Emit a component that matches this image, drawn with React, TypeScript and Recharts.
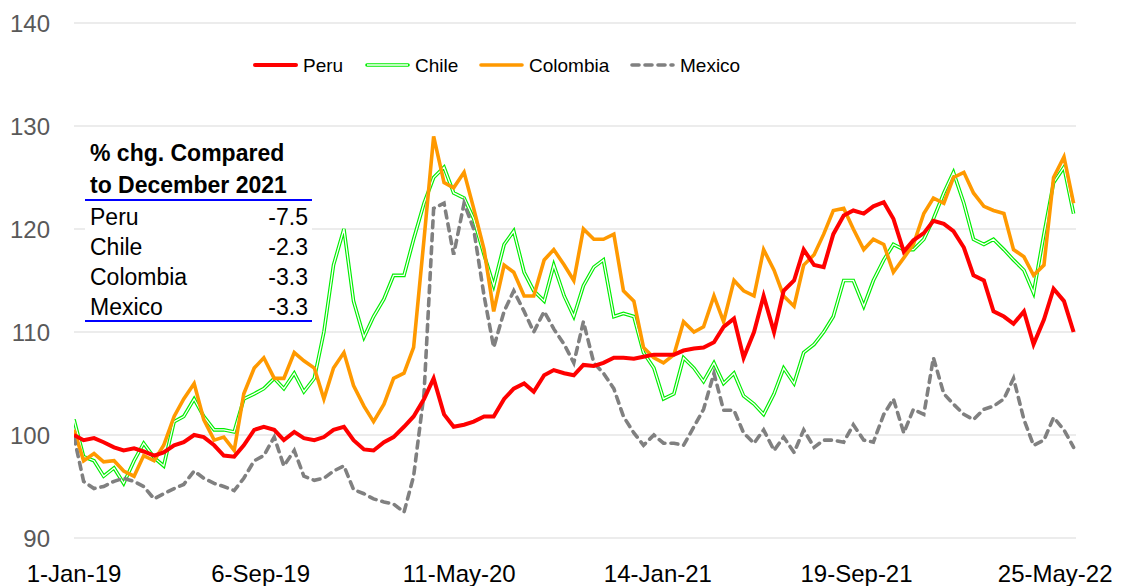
import { LineChart, Line, XAxis, YAxis, CartesianGrid } from 'recharts'

// days since 1-Jan-19
const days = [
  15, 27, 40, 52, 65, 77, 90, 102, 115, 127, 140, 152, 165, 177, 190, 202, 215, 227, 240, 252,
  265, 277, 290, 302, 315, 327, 339, 352, 364, 377, 389, 402, 414, 427, 439, 452, 464, 477, 489, 502,
  514, 527, 539, 552, 564, 577, 589, 602, 614, 627, 639, 651, 664, 676, 689, 701, 714, 726, 739, 751,
  764, 776, 789, 801, 814, 826, 839, 851, 864, 876, 889, 901, 914, 926, 939, 951, 963, 976, 988, 1001,
  1013, 1026, 1038, 1051, 1063, 1076, 1088, 1101, 1113, 1126, 1138, 1151, 1163, 1176, 1188, 1201, 1213, 1226, 1238, 1251,
  1263,
]

const peru = [
  100.0, 99.5, 99.7, 99.3, 98.8, 98.5, 98.7, 98.4, 98.0, 98.3,
  99.0, 99.3, 100.0, 99.8, 99.0, 98.0, 97.9, 99.0, 100.5, 100.8,
  100.5, 99.5, 100.3, 99.7, 99.5, 99.8, 100.5, 100.8, 99.5, 98.6,
  98.5, 99.3, 99.8, 100.8, 101.8, 103.5, 105.5, 102.0, 100.8, 101.0,
  101.3, 101.8, 101.8, 103.5, 104.5, 105.0, 104.2, 105.8, 106.3, 106.0,
  105.8, 106.8, 106.7, 107.0, 107.5, 107.5, 107.4, 107.6, 107.8, 107.8,
  107.8, 108.2, 108.4, 108.5, 109.0, 110.5, 111.3, 107.5, 110.0, 113.5,
  110.0, 114.0, 115.0, 118.0, 116.5, 116.3, 119.5, 121.3, 121.8, 121.5,
  122.2, 122.6, 121.0, 117.8, 118.9, 119.6, 120.8, 120.5, 119.8, 118.2,
  115.5, 115.0, 112.0, 111.5, 110.8, 112.0, 108.8, 111.2, 114.2, 113.0,
  110.0,
]

const chile = [
  101.5, 97.9, 97.5, 96.0, 96.8, 95.3, 97.5, 99.2, 97.8, 97.0,
  101.3, 101.8, 103.5, 101.8, 100.5, 100.5, 100.3, 103.5, 104.0, 104.5,
  105.5, 104.5, 106.0, 104.2, 105.5, 110.0, 116.5, 120.0, 113.0, 109.5,
  111.5, 113.2, 115.5, 115.5, 119.0, 122.5, 125.0, 126.0, 123.5, 123.0,
  121.0, 117.5, 114.5, 118.5, 119.8, 115.8, 114.0, 113.0, 116.5, 113.5,
  111.5, 114.5, 116.3, 117.0, 111.5, 111.8, 111.5, 108.0, 106.5, 103.5,
  104.0, 107.5, 106.5, 105.2, 107.0, 105.0, 106.0, 103.8, 103.0, 102.0,
  104.0, 106.5, 105.0, 108.0, 108.8, 110.0, 111.5, 115.0, 115.0, 112.5,
  115.0, 117.0, 118.5, 118.0, 118.0, 119.0, 121.0, 123.5, 125.5, 122.5,
  119.0, 118.5, 119.0, 118.0, 117.0, 116.0, 113.8, 119.5, 124.5, 126.0,
  121.5,
]

const colombia = [
  100.5, 97.5, 98.2, 97.4, 97.5, 96.5, 96.0, 98.0, 97.5, 99.0,
  101.8, 103.5, 105.0, 101.5, 99.5, 99.8, 98.5, 104.0, 106.5, 107.5,
  105.5, 105.5, 108.0, 107.2, 106.5, 103.5, 106.5, 108.0, 104.8, 102.8,
  101.3, 103.0, 105.5, 106.0, 108.5, 119.0, 129.0, 124.5, 124.0, 125.5,
  122.0, 118.0, 112.0, 116.5, 115.8, 113.5, 113.5, 117.0, 118.0, 116.5,
  115.0, 120.0, 119.0, 119.0, 119.5, 114.0, 113.0, 108.5, 107.5, 107.0,
  107.8, 111.0, 110.0, 110.5, 113.5, 111.0, 115.0, 114.0, 113.5, 118.0,
  116.0, 113.5, 112.5, 116.5, 117.5, 119.5, 121.8, 122.0, 120.0, 118.0,
  119.0, 118.5, 115.8, 117.2, 118.5, 121.5, 123.0, 122.5, 125.0, 125.5,
  123.5, 122.2, 121.8, 121.5, 118.0, 117.3, 115.5, 116.5, 125.0, 127.0,
  122.5,
]

const mexico = [
  99.8, 95.5, 94.8, 95.0, 95.5, 95.8, 95.5, 95.0, 93.8, 94.3,
  94.8, 95.2, 96.5, 95.8, 95.3, 95.0, 94.6, 95.8, 97.5, 98.0,
  99.8, 97.0, 98.5, 96.0, 95.6, 95.8, 96.5, 97.0, 94.7, 94.3,
  93.8, 93.5, 93.3, 92.5, 96.0, 104.0, 122.0, 122.5, 117.5, 122.5,
  120.0, 113.5, 108.5, 112.0, 114.0, 112.0, 110.0, 112.0, 110.3, 108.8,
  107.0, 111.0, 107.0, 106.0, 104.5, 101.8, 100.2, 99.0, 100.0, 99.2,
  99.2, 99.0, 100.8, 102.5, 106.0, 102.4, 102.4, 100.2, 99.2, 100.5,
  98.5, 99.8, 98.3, 100.5, 98.8, 99.5, 99.5, 99.3, 101.0, 99.5,
  99.3, 102.0, 103.5, 100.2, 102.5, 102.0, 107.5, 104.0, 103.0, 102.0,
  101.5, 102.5, 102.8, 103.5, 105.5, 101.5, 99.0, 99.5, 101.7, 100.5,
  98.8,
]

const tickDays = [0, 248, 496, 744, 992, 1240]
const tickLabels = ['1-Jan-19', '6-Sep-19', '11-May-20', '14-Jan-21', '19-Sep-21', '25-May-22']
const yTicks = [90, 100, 110, 120, 130, 140]

const tableTitle = ['% chg. Compared', 'to December 2021']
const tableNames = ['Peru', 'Chile', 'Colombia', 'Mexico']
const tableValues = ['-7.5', '-2.3', '-3.3', '-3.3']

const data = days.map((day, i) => ({
  day,
  peru: peru[i],
  chile: chile[i],
  colombia: colombia[i],
  mexico: mexico[i],
}))

const FONT = '"Liberation Sans", Arial, sans-serif'
const PLOT_LEFT = 74

const XTick = (props: any) => {
  const { x, y, index } = props
  return (
    <text
      x={Math.max(x, PLOT_LEFT)}
      y={y}
      dy={36}
      textAnchor="middle"
      fill="#000"
      fontSize={24}
      fontFamily={FONT}
    >
      {tickLabels[index]}
    </text>
  )
}

const legendItems = [
  { name: 'Peru', x: 0, kind: 'peru' },
  { name: 'Chile', x: 112, kind: 'chile' },
  { name: 'Colombia', x: 226, kind: 'colombia' },
  { name: 'Mexico', x: 377, kind: 'mexico' },
]

const ChartLegend = () => (
  <svg width={500} height={30} style={{ position: 'absolute', left: 253, top: 50 }}>
    {legendItems.map((it) => (
      <g key={it.name} transform={`translate(${it.x},0)`}>
        {it.kind === 'peru' && <line x1={2} y1={15} x2={43} y2={15} stroke="#ff0000" strokeWidth={4} strokeLinecap="round" />}
        {it.kind === 'chile' && (
          <>
            <line x1={2} y1={15} x2={43} y2={15} stroke="#00ee00" strokeWidth={3.6} strokeLinecap="round" />
            <line x1={2} y1={15} x2={43} y2={15} stroke="#ffffff" strokeWidth={1.3} />
          </>
        )}
        {it.kind === 'colombia' && <line x1={2} y1={15} x2={43} y2={15} stroke="#ff9900" strokeWidth={3.6} strokeLinecap="round" />}
        {it.kind === 'mexico' && (
          <line x1={2} y1={15} x2={43} y2={15} stroke="#808080" strokeWidth={3.6} strokeDasharray="7 6" strokeLinecap="round" />
        )}
        <text x={50} y={22} fontSize={19} fontFamily={FONT} fill="#000">
          {it.name}
        </text>
      </g>
    ))}
  </svg>
)

export default function App() {
  return (
    <div style={{ position: 'absolute', left: 0, top: 0, width: 1123, height: 586, background: '#fff', fontFamily: FONT }}>
      <LineChart width={1123} height={586} data={data} margin={{ top: 23, right: 47, bottom: 0, left: 14 }}>
        <CartesianGrid vertical={false} stroke="#d9d9d9" strokeWidth={1.2} />
        <XAxis
          type="number"
          dataKey="day"
          domain={[15, 1266]}
          ticks={tickDays}
          interval={0}
          allowDataOverflow
          tickLine={false}
          axisLine={false}
          height={48}
          tick={<XTick />}
        />
        <YAxis
          domain={[90, 140]}
          ticks={yTicks}
          interval={0}
          width={60}
          tickLine={false}
          axisLine={false}
          tickMargin={18}
          tick={{ fill: '#595959', fontSize: 24, fontFamily: FONT }}
        />
        <Line type="linear" dataKey="chile" stroke="#00ee00" strokeWidth={3.6} dot={false} isAnimationActive={false} />
        <Line type="linear" dataKey="chile" stroke="#ffffff" strokeWidth={1.3} dot={false} isAnimationActive={false} />
        <Line type="linear" dataKey="colombia" stroke="#ff9900" strokeWidth={3.6} dot={false} isAnimationActive={false} />
        <Line
          type="linear"
          dataKey="mexico"
          stroke="#808080"
          strokeWidth={3.6}
          strokeDasharray="7 6"
          strokeLinecap="round"
          dot={false}
          isAnimationActive={false}
        />
        <Line type="linear" dataKey="peru" stroke="#ff0000" strokeWidth={4} dot={false} isAnimationActive={false} />
      </LineChart>

      <ChartLegend />

      <div style={{ position: 'absolute', left: 85, top: 135, width: 227, height: 190, background: '#fff' }}>
        {tableTitle.map((t, i) => (
          <div
            key={t}
            style={{ position: 'absolute', left: 5, top: 2 + i * 32, lineHeight: '32px', fontSize: 23, fontWeight: 'bold', color: '#000', whiteSpace: 'nowrap' }}
          >
            {t}
          </div>
        ))}
        <div style={{ position: 'absolute', left: 0, top: 64, width: 227, height: 2, background: '#0000ff' }} />
        {tableNames.map((n, i) => (
          <div
            key={n}
            style={{ position: 'absolute', left: 5, top: 67 + i * 30, width: 218, lineHeight: '30px', fontSize: 23, color: '#000', display: 'flex', justifyContent: 'space-between' }}
          >
            <span>{n}</span>
            <span>{tableValues[i]}</span>
          </div>
        ))}
        <div style={{ position: 'absolute', left: 0, top: 185, width: 227, height: 2, background: '#0000ff' }} />
      </div>
    </div>
  )
}
